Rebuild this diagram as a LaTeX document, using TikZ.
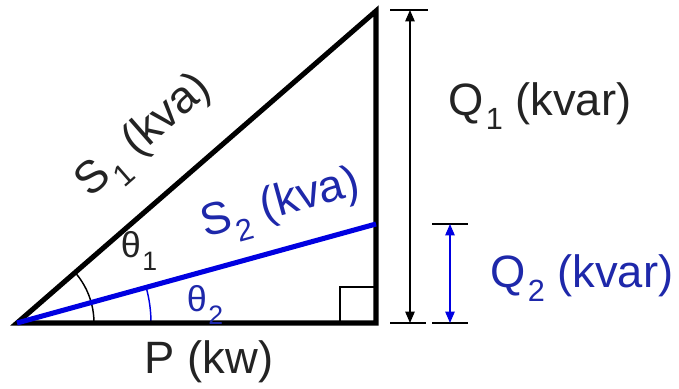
\documentclass[tikz,border=0pt]{standalone}
\usepackage{fontspec}
\setmainfont{Liberation Sans}
\usetikzlibrary{arrows.meta,calc}
\definecolor{lblue}{RGB}{0,0,225}
\definecolor{tblue}{RGB}{30,40,170}
\definecolor{tgray}{RGB}{35,35,35}
\newcommand\subx[1]{\kern1.5pt\raisebox{-0.32em}{\fontsize{23}{23}\selectfont #1}}
\newcommand\subt[1]{\kern1pt\raisebox{-0.38em}{\fontsize{20}{20}\selectfont #1}}
\tikzset{
  lbl/.style={font=\fontsize{34}{34}\selectfont, text=tgray, inner sep=0pt},
  thlbl/.style={font=\fontsize{27}{27}\selectfont, text=tgray, inner sep=0pt},
  side/.style={line width=3.8pt, black},
  bside/.style={line width=3.8pt, lblue},
  thin/.style={line width=1.1pt},
  dim/.style={line width=1.1pt, {Triangle[length=8.5pt,width=7pt]}-{Triangle[length=8.5pt,width=7pt]}}
}
\begin{document}
\begin{tikzpicture}[x=0.75pt,y=0.75pt]
\useasboundingbox (0,0) rectangle (679,389);
% vertices
\coordinate (A) at (17,66);
\coordinate (B) at (376,66);
\coordinate (C) at (376,378);
\coordinate (D) at (376,165);
% right angle square
\draw[thin] (340,66) -- (340,102) -- (376,102);
% angle arcs
\draw[thin, black] ($(A)+(77,0)$) arc[start angle=0, end angle=41, radius=77];
\draw[thin, lblue] ($(A)+(134,0)$) arc[start angle=0, end angle=15.4, radius=134];
% triangle
\draw[side, line join=miter] (A) -- (B) -- (C) -- cycle;
\draw[bside] (A) -- (D);
% dimension Q1
\coordinate (q1t) at (410,379);
\coordinate (q1b) at (410,66);
\draw[thin] (390,379) -- (428,379);
\draw[thin] (390,66) -- (426,66);
\draw[dim] (q1t) -- (q1b);
% dimension Q2
\coordinate (q2t) at (450,165);
\coordinate (q2b) at (450,66);
\draw[thin] (432,165) -- (468,165);
\draw[thin] (432,66) -- (468,66);
\draw[dim, lblue] (q2t) -- (q2b);
% labels
\node[lbl, rotate=41.2] (s1) at (146,251) {S\subx{1} (kva)};
\node[lbl, text=tblue, rotate=15.4] (s2) at (281,182) {S\subx{2} (kva)};
\node[lbl] (p) at (209,27) {P (kw)};
\node[lbl] (q1) at (540,283) {Q\subx{1} (kvar)};
\node[lbl, text=tblue] (q2) at (582,111) {Q\subx{2} (kvar)};
\node[thlbl] (t1) at (139,138) {θ\subt{1}};
\node[thlbl, text=tblue] (t2) at (205,84) {θ\subt{2}};
\end{tikzpicture}
\end{document}
